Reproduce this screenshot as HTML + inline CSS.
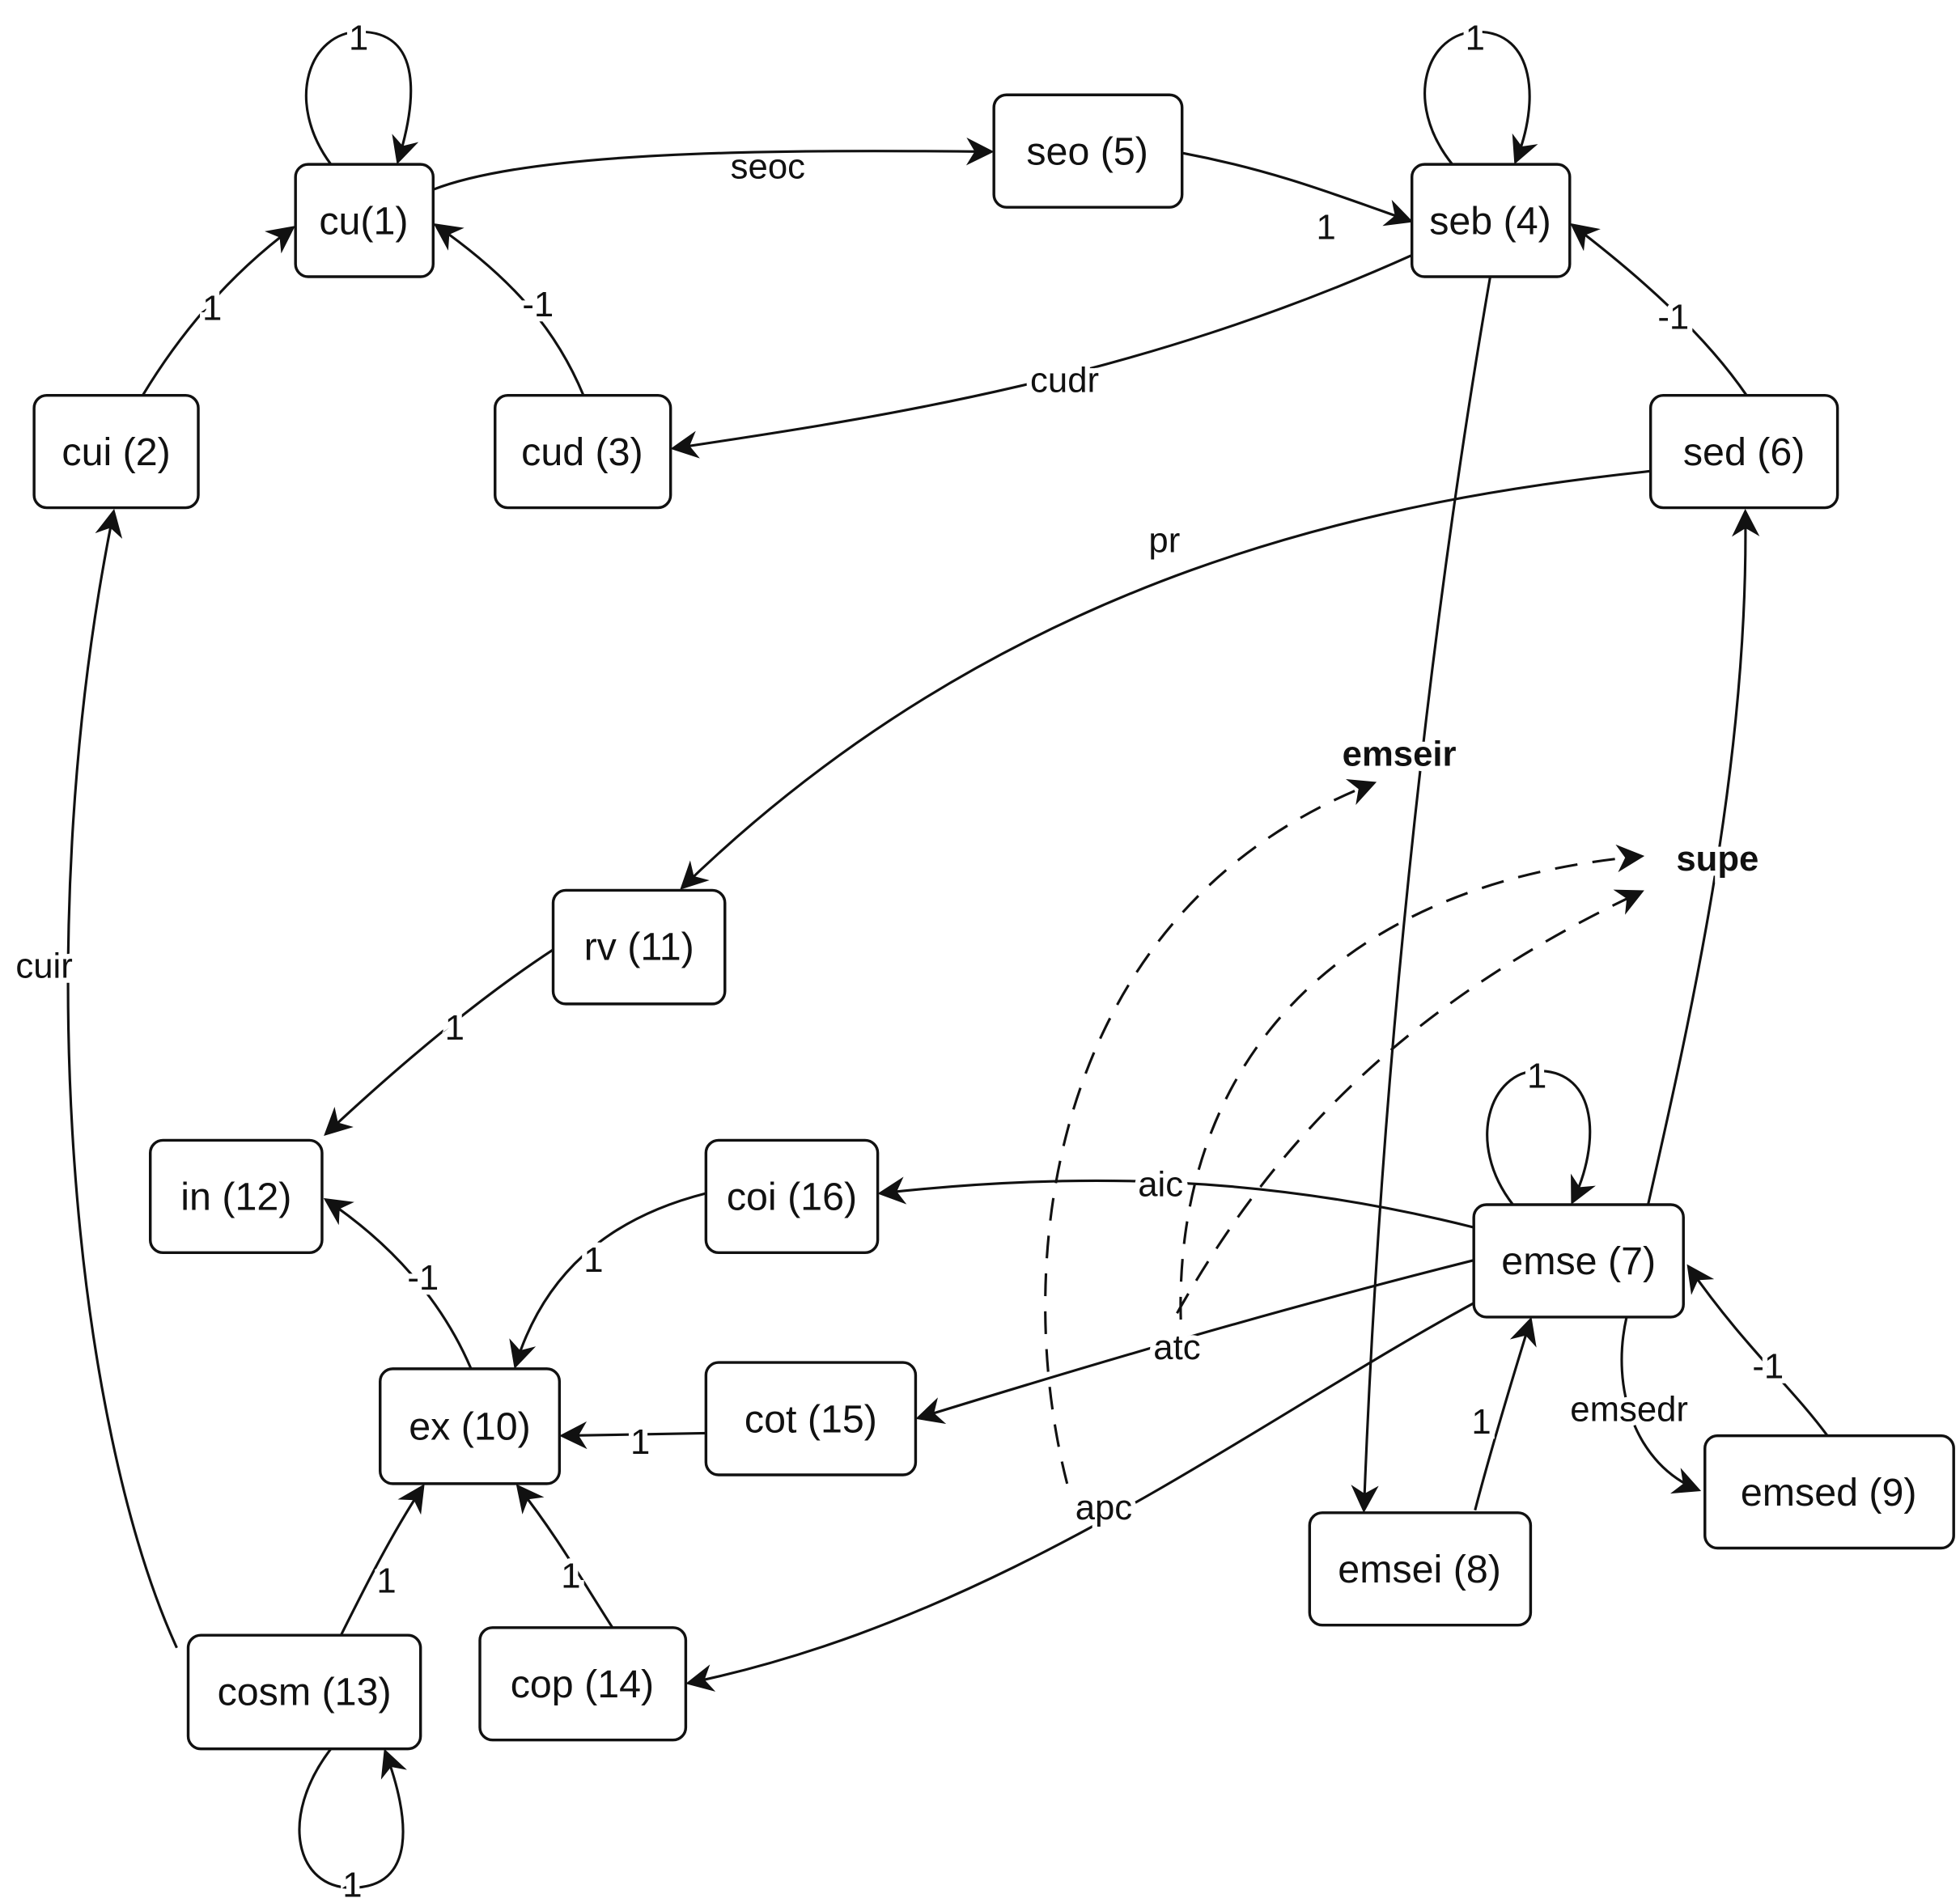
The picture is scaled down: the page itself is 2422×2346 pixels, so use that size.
<!DOCTYPE html>
<html><head><meta charset="utf-8"><style>
html,body{margin:0;padding:0;background:#fff}
svg{display:block}
text{font-family:"Liberation Sans",sans-serif;fill:#111}
.n{font-size:31px;text-anchor:middle;dominant-baseline:central}
.l{font-size:28px;text-anchor:middle;dominant-baseline:central;paint-order:stroke;stroke:#fff;stroke-width:8px}
.b{font-weight:bold}
</style></head><body>
<svg width="2422" height="2346" viewBox="0 0 1552 1503" xmlns="http://www.w3.org/2000/svg">
<defs>
<marker id="A" viewBox="0 0 10 10" refX="9" refY="5" markerWidth="22" markerHeight="22" markerUnits="userSpaceOnUse" orient="auto"><path d="M0,0 L10,5 L0,10 L3,5z" fill="#111"/></marker></defs>
<g fill="none" stroke="#111" stroke-width="2" marker-end="url(#A)">
<path d="M262,130 C225,80 245,25 285,25 C335,25 330,80 315,128"/>
<path d="M1150,130 C1110,80 1130,25 1170,25 C1215,25 1220,80 1200,128"/>
<path d="M1198,954 C1160,905 1180,848 1218,848 C1265,848 1268,905 1245,952"/>
<path d="M262,1385 C220,1440 235,1495 278,1495 C330,1495 325,1440 305,1387"/>
<path d="M343,150 C420,120 600,118 785,120"/>
<path d="M936,121 C1010,135 1060,155 1117,175"/>
<path d="M1118,202 C900,300 700,330 533,355"/>
<path d="M113,313 C145,260 185,215 232,180"/>
<path d="M462,313 C440,260 405,220 345,178"/>
<path d="M1383,313 C1350,265 1300,220 1245,178"/>
<path d="M1180,219 C1140,450 1095,800 1080,1196"/>
<path d="M1307,373 C1100,395 800,450 540,703"/>
<path d="M140,1305 C60,1130 20,750 90,405"/>
<path d="M438,752 C380,790 320,840 258,898"/>
<path d="M373,1084 C350,1030 310,985 258,950"/>
<path d="M559,945 C480,965 430,1010 408,1082"/>
<path d="M559,1135 L445,1137"/>
<path d="M270,1295 C290,1255 310,1215 335,1177"/>
<path d="M485,1289 C460,1250 440,1215 410,1177"/>
<path d="M1167,972 C1000,930 850,928 697,945"/>
<path d="M1167,998 C1000,1040 850,1085 727,1123"/>
<path d="M1180,1025 C1000,1120 800,1280 545,1333"/>
<path d="M1168,1196 C1180,1150 1195,1100 1212,1045"/>
<path d="M1447,1137 C1420,1100 1380,1065 1337,1003"/>
<path d="M1288,1043 C1275,1100 1295,1160 1345,1180"/>
<path d="M1305,954 C1340,800 1385,600 1382,405"/>
</g>
<g fill="none" stroke="#111" stroke-width="2" stroke-dasharray="18,12" marker-end="url(#A)">
<path d="M845,1175 C800,1000 830,720 1088,620"/>
<path d="M935,1045 C930,850 1050,700 1300,678"/>
<path d="M932,1040 C1000,920 1100,800 1300,706"/>
</g>
<g fill="#fff" stroke="#111" stroke-width="2.2">
<rect x="234" y="130" width="109" height="89" rx="10"/>
<rect x="787" y="75" width="149" height="89" rx="10"/>
<rect x="1118" y="130" width="125" height="89" rx="10"/>
<rect x="27" y="313" width="130" height="89" rx="10"/>
<rect x="392" y="313" width="139" height="89" rx="10"/>
<rect x="1307" y="313" width="148" height="89" rx="10"/>
<rect x="438" y="705" width="136" height="90" rx="10"/>
<rect x="119" y="903" width="136" height="89" rx="10"/>
<rect x="559" y="903" width="136" height="89" rx="10"/>
<rect x="1167" y="954" width="166" height="89" rx="10"/>
<rect x="301" y="1084" width="142" height="91" rx="10"/>
<rect x="559" y="1079" width="166" height="89" rx="10"/>
<rect x="1350" y="1137" width="197" height="89" rx="10"/>
<rect x="1037" y="1198" width="175" height="89" rx="10"/>
<rect x="149" y="1295" width="184" height="90" rx="10"/>
<rect x="380" y="1289" width="163" height="89" rx="10"/>
</g>
<g class="n">
<text x="288" y="175">cu(1)</text>
<text x="861" y="120">seo (5)</text>
<text x="1180" y="175">seb (4)</text>
<text x="92" y="358">cui (2)</text>
<text x="461" y="358">cud (3)</text>
<text x="1381" y="358">sed (6)</text>
<text x="506" y="750">rv (11)</text>
<text x="187" y="948">in (12)</text>
<text x="627" y="948">coi (16)</text>
<text x="1250" y="999">emse (7)</text>
<text x="372" y="1130">ex (10)</text>
<text x="642" y="1124">cot (15)</text>
<text x="1448" y="1182">emsed (9)</text>
<text x="1124" y="1243">emsei (8)</text>
<text x="241" y="1340">cosm (13)</text>
<text x="461" y="1334">cop (14)</text>
</g>
<g class="l">
<text x="284" y="30">1</text>
<text x="1168" y="30">1</text>
<text x="1217" y="852">1</text>
<text x="279" y="1493">1</text>
<text x="608" y="132">seoc</text>
<text x="1050" y="180">1</text>
<text x="843" y="301">cudr</text>
<text x="168" y="244">1</text>
<text x="426" y="241">-1</text>
<text x="1325" y="251">-1</text>
<text x="922" y="428">pr</text>
<text x="35" y="765">cuir</text>
<text x="360" y="814">1</text>
<text x="335" y="1012">-1</text>
<text x="470" y="998">1</text>
<text x="507" y="1142">1</text>
<text x="306" y="1252">1</text>
<text x="452" y="1248">1</text>
<text x="919" y="938">aic</text>
<text x="932" y="1067">atc</text>
<text x="874" y="1194">apc</text>
<text x="1173" y="1126">1</text>
<text x="1400" y="1082">-1</text>
<text x="1290" y="1116">emsedr</text>
<text x="1108" y="597" class="b">emseir</text>
<text x="1360" y="680" class="b">supe</text>
</g>
</svg>
</body></html>
